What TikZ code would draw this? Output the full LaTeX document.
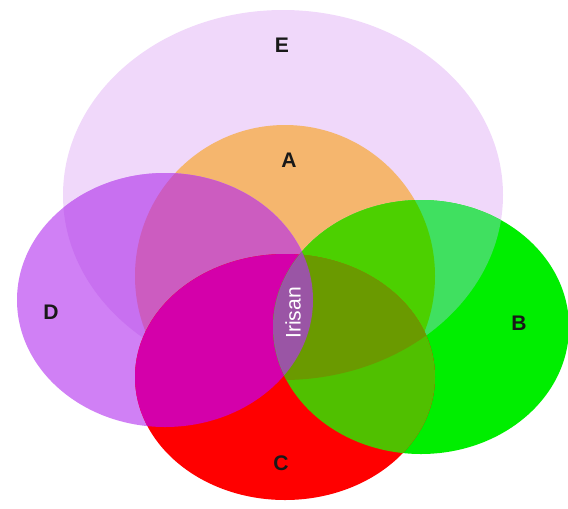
\documentclass[tikz,border=0pt]{standalone}
\usepackage{fontspec}
\setmainfont{Liberation Sans}
\usetikzlibrary{positioning}

\definecolor{colE}{RGB}{240,216,250}
\definecolor{colA}{RGB}{245,182,110}
\definecolor{colD}{RGB}{208,128,245}
\definecolor{colDE}{RGB}{200,112,240}
\definecolor{colDA}{RGB}{204,92,192}
\definecolor{colB}{RGB}{0,238,0}
\definecolor{colBE}{RGB}{64,224,96}
\definecolor{colBA}{RGB}{76,208,0}
\definecolor{colC}{RGB}{255,0,0}
\definecolor{colCD}{RGB}{212,0,170}
\definecolor{colCB}{RGB}{80,192,0}
\definecolor{colCBE}{RGB}{106,154,0}
\definecolor{colIrisan}{RGB}{154,85,165}

\tikzset{
  ringE/.style={insert path={(283,195) ellipse [x radius=220, y radius=185]}},
  ringA/.style={insert path={(285,276) ellipse [x radius=150, y radius=151]}},
  ringD/.style={insert path={(165,300) ellipse [x radius=148, y radius=127]}},
  ringB/.style={insert path={(421,327) ellipse [x radius=148, y radius=127]}},
  ringC/.style={insert path={(285,377) ellipse [x radius=150, y radius=123]}},
  setlabel/.style={font=\fontsize{12}{14}\selectfont\bfseries, text=black!90},
  cutlabel/.style={font=\fontsize{12}{14}\selectfont, text=white, rotate=90}
}

\begin{document}
\begin{tikzpicture}[x=0.02cm, y=-0.02cm]
  \useasboundingbox (0,0) rectangle (568,508);
  % base sets
  \fill[colE, ringE];
  \fill[colA, ringA];
  \fill[colD, ringD];
  \begin{scope}
    \clip[ringD];
    \fill[colDE, ringE];
    \fill[colDA, ringA];
  \end{scope}
  \fill[colB, ringB];
  \begin{scope}
    \clip[ringB];
    \fill[colBE, ringE];
    \fill[colBA, ringA];
  \end{scope}
  \fill[colC, ringC];
  \begin{scope}
    \clip[ringC];
    \fill[colCD, ringD];
    \fill[colCB, ringB];
    \clip[ringB];
    \fill[colCBE, ringE];
  \end{scope}
  % irisan
  \begin{scope}
    \clip[ringD];
    \fill[colIrisan, ringB];
  \end{scope}
  \foreach \n/\x/\y in {E/282/45, A/289/160, D/51/312, B/519/323, C/281/463} {
    \node[setlabel] (lab\n) at (\x,\y) {\n};
  }
  \node[cutlabel] (irisan) at (293,313) {Irisan};
\end{tikzpicture}
\end{document}
